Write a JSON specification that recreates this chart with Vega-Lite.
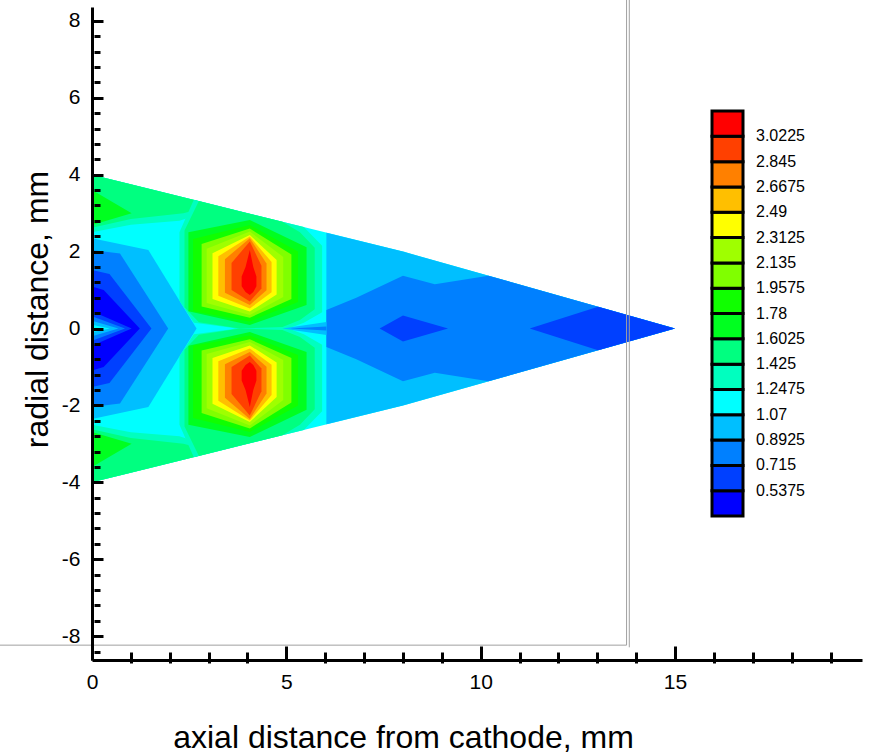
{
  "$schema": "https://vega.github.io/schema/vega-lite/v6.json",
  "width": 770,
  "height": 653,
  "autosize": {"type": "none"},
  "padding": {"left": 92, "top": 7, "right": 9, "bottom": 94},
  "background": "white",
  "config": {"view": {"stroke": null}, "font": "Liberation Sans"},
  "resolve": {"axis": {"x": "independent", "y": "independent"}},
  "datasets": {
    "contours": [
      {"g":"base","x":0,"lo":-4,"hi":4,"v":1.15},
      {"g":"base","x":8,"lo":-2,"hi":2,"v":1.15},
      {"g":"base","x":15,"lo":0,"hi":0,"v":1.15},
      {"g":"lb","x":6.03,"lo":-2.4925,"hi":2.4925,"v":0.98},
      {"g":"lb","x":8,"lo":-2,"hi":2,"v":0.98},
      {"g":"lb","x":15,"lo":0,"hi":0,"v":0.98},
      {"g":"b13","x":6.03,"lo":-0.48,"hi":0.48,"v":0.8},
      {"g":"b13","x":6.8,"lo":-0.8,"hi":0.8,"v":0.8},
      {"g":"b13","x":8,"lo":-1.37,"hi":1.37,"v":0.8},
      {"g":"b13","x":8.82,"lo":-1.15,"hi":1.15,"v":0.8},
      {"g":"b13","x":10.2,"lo":-1.371,"hi":1.371,"v":0.8},
      {"g":"b13","x":15,"lo":0,"hi":0,"v":0.8},
      {"g":"b14a","x":7.4,"lo":0,"hi":0,"v":0.62},
      {"g":"b14a","x":8,"lo":-0.34,"hi":0.34,"v":0.62},
      {"g":"b14a","x":9.16,"lo":0,"hi":0,"v":0.62},
      {"g":"b14b","x":11.26,"lo":0,"hi":0,"v":0.62},
      {"g":"b14b","x":13.02,"lo":-0.566,"hi":0.566,"v":0.62},
      {"g":"b14b","x":15,"lo":0,"hi":0,"v":0.62},
      {"g":"c12","x":0,"lo":-2.35,"hi":2.35,"v":0.98},
      {"g":"c12","x":1.45,"lo":-2.04,"hi":2.04,"v":0.98},
      {"g":"c12","x":2.69,"lo":0,"hi":0,"v":0.98},
      {"g":"c13","x":0,"lo":-2.04,"hi":2.04,"v":0.8},
      {"g":"c13","x":0.72,"lo":-1.95,"hi":1.95,"v":0.8},
      {"g":"c13","x":1.96,"lo":0,"hi":0,"v":0.8},
      {"g":"c14","x":0,"lo":-1.52,"hi":1.52,"v":0.62},
      {"g":"c14","x":0.45,"lo":-1.42,"hi":1.42,"v":0.62},
      {"g":"c14","x":1.53,"lo":0,"hi":0,"v":0.62},
      {"g":"c15","x":0,"lo":-1.09,"hi":1.09,"v":0.45},
      {"g":"c15","x":0.3,"lo":-1.0,"hi":1.0,"v":0.45},
      {"g":"c15","x":1.23,"lo":0,"hi":0,"v":0.45},
      {"g":"n14","x":0,"lo":-0.45,"hi":0.45,"v":0.62},
      {"g":"n14","x":1.02,"lo":0,"hi":0,"v":0.62},
      {"g":"n13","x":0,"lo":-0.32,"hi":0.32,"v":0.8},
      {"g":"n13","x":0.85,"lo":0,"hi":0,"v":0.8},
      {"g":"n12","x":0,"lo":-0.2,"hi":0.2,"v":0.98},
      {"g":"n12","x":0.68,"lo":0,"hi":0,"v":0.98},
      {"g":"n11","x":0,"lo":-0.1,"hi":0.1,"v":1.15},
      {"g":"n11","x":0.46,"lo":0,"hi":0,"v":1.15},
      {"g":"t10u","x":0,"lo":2.5,"hi":4,"v":1.33},
      {"g":"t10u","x":1,"lo":2.7,"hi":3.75,"v":1.33},
      {"g":"t10u","x":2.25,"lo":2.8,"hi":3.4375,"v":1.33},
      {"g":"t10u","x":2.7,"lo":2.95,"hi":3.325,"v":1.33},
      {"g":"t10l","x":0,"lo":-4,"hi":-2.5,"v":1.33},
      {"g":"t10l","x":1,"lo":-3.75,"hi":-2.7,"v":1.33},
      {"g":"t10l","x":2.25,"lo":-3.4375,"hi":-2.8,"v":1.33},
      {"g":"t10l","x":2.7,"lo":-3.325,"hi":-2.95,"v":1.33},
      {"g":"t9u","x":0,"lo":2.62,"hi":4,"v":1.5},
      {"g":"t9u","x":1,"lo":2.85,"hi":3.75,"v":1.5},
      {"g":"t9u","x":2.35,"lo":3.0,"hi":3.4125,"v":1.5},
      {"g":"t9u","x":2.75,"lo":3.1,"hi":3.3125,"v":1.5},
      {"g":"t9l","x":0,"lo":-4,"hi":-2.62,"v":1.5},
      {"g":"t9l","x":1,"lo":-3.75,"hi":-2.85,"v":1.5},
      {"g":"t9l","x":2.35,"lo":-3.4125,"hi":-3.0,"v":1.5},
      {"g":"t9l","x":2.75,"lo":-3.3125,"hi":-3.1,"v":1.5},
      {"g":"gwu","x":0,"lo":2.69,"hi":3.6,"v":1.7},
      {"g":"gwu","x":1.02,"lo":3.0,"hi":3.0,"v":1.7},
      {"g":"gwl","x":0,"lo":-3.6,"hi":-2.69,"v":1.7},
      {"g":"gwl","x":1.02,"lo":-3.0,"hi":-3.0,"v":1.7},
      {"g":"k10u","x":2.25,"lo":0.72,"hi":2.5,"v":1.33},
      {"g":"k10u","x":2.62,"lo":0.15,"hi":3.345,"v":1.33},
      {"g":"k10u","x":3.6,"lo":0.02,"hi":3.1,"v":1.33},
      {"g":"k10u","x":3.75,"lo":-0.02,"hi":3.0625,"v":1.33},
      {"g":"k10u","x":5.0,"lo":-0.02,"hi":2.75,"v":1.33},
      {"g":"k10u","x":5.45,"lo":0.15,"hi":2.6375,"v":1.33},
      {"g":"k10u","x":5.92,"lo":0.42,"hi":2.15,"v":1.33},
      {"g":"k10l","x":2.25,"lo":-2.5,"hi":-0.72,"v":1.33},
      {"g":"k10l","x":2.62,"lo":-3.345,"hi":-0.15,"v":1.33},
      {"g":"k10l","x":3.6,"lo":-3.1,"hi":-0.02,"v":1.33},
      {"g":"k10l","x":3.75,"lo":-3.0625,"hi":0.02,"v":1.33},
      {"g":"k10l","x":5.0,"lo":-2.75,"hi":0.02,"v":1.33},
      {"g":"k10l","x":5.45,"lo":-2.6375,"hi":-0.15,"v":1.33},
      {"g":"k10l","x":5.92,"lo":-2.15,"hi":-0.42,"v":1.33},
      {"g":"k9u","x":2.38,"lo":0.55,"hi":2.55,"v":1.5},
      {"g":"k9u","x":2.75,"lo":0.16,"hi":3.3125,"v":1.5},
      {"g":"k9u","x":3.8,"lo":0.0,"hi":3.05,"v":1.5},
      {"g":"k9u","x":4.9,"lo":0.04,"hi":2.775,"v":1.5},
      {"g":"k9u","x":5.35,"lo":0.22,"hi":2.5,"v":1.5},
      {"g":"k9u","x":5.73,"lo":0.5,"hi":2.1,"v":1.5},
      {"g":"k9l","x":2.38,"lo":-2.55,"hi":-0.55,"v":1.5},
      {"g":"k9l","x":2.75,"lo":-3.3125,"hi":-0.16,"v":1.5},
      {"g":"k9l","x":3.8,"lo":-3.05,"hi":0.0,"v":1.5},
      {"g":"k9l","x":4.9,"lo":-2.775,"hi":-0.04,"v":1.5},
      {"g":"k9l","x":5.35,"lo":-2.5,"hi":-0.22,"v":1.5},
      {"g":"k9l","x":5.73,"lo":-2.1,"hi":-0.5,"v":1.5},
      {"g":"k8u","x":2.48,"lo":0.45,"hi":2.5,"v":1.69},
      {"g":"k8u","x":4.06,"lo":0.09,"hi":2.82,"v":1.69},
      {"g":"k8u","x":5.52,"lo":0.612,"hi":2.11,"v":1.69},
      {"g":"k8l","x":2.48,"lo":-2.5,"hi":-0.45,"v":1.69},
      {"g":"k8l","x":4.06,"lo":-2.82,"hi":-0.09,"v":1.69},
      {"g":"k8l","x":5.52,"lo":-2.11,"hi":-0.612,"v":1.69},
      {"g":"k7u","x":2.6,"lo":0.45,"hi":2.33,"v":1.87},
      {"g":"k7u","x":4.06,"lo":0.18,"hi":2.69,"v":1.87},
      {"g":"k7u","x":5.3,"lo":0.69,"hi":2.0,"v":1.87},
      {"g":"k7l","x":2.6,"lo":-2.33,"hi":-0.45,"v":1.87},
      {"g":"k7l","x":4.06,"lo":-2.69,"hi":-0.18,"v":1.87},
      {"g":"k7l","x":5.3,"lo":-2.0,"hi":-0.69,"v":1.87},
      {"g":"k6u","x":2.82,"lo":0.57,"hi":2.2,"v":2.05},
      {"g":"k6u","x":4.06,"lo":0.28,"hi":2.6,"v":2.05},
      {"g":"k6u","x":5.13,"lo":0.765,"hi":1.925,"v":2.05},
      {"g":"k6l","x":2.82,"lo":-2.2,"hi":-0.57,"v":2.05},
      {"g":"k6l","x":4.06,"lo":-2.6,"hi":-0.28,"v":2.05},
      {"g":"k6l","x":5.13,"lo":-1.925,"hi":-0.765,"v":2.05},
      {"g":"k5u","x":2.95,"lo":0.665,"hi":2.075,"v":2.22},
      {"g":"k5u","x":4.06,"lo":0.35,"hi":2.52,"v":2.22},
      {"g":"k5u","x":4.92,"lo":0.818,"hi":1.86,"v":2.22},
      {"g":"k5l","x":2.95,"lo":-2.075,"hi":-0.665,"v":2.22},
      {"g":"k5l","x":4.06,"lo":-2.52,"hi":-0.35,"v":2.22},
      {"g":"k5l","x":4.92,"lo":-1.86,"hi":-0.818,"v":2.22},
      {"g":"k4u","x":3.1,"lo":0.764,"hi":1.958,"v":2.4},
      {"g":"k4u","x":4.06,"lo":0.44,"hi":2.43,"v":2.4},
      {"g":"k4u","x":4.75,"lo":0.886,"hi":1.781,"v":2.4},
      {"g":"k4l","x":3.1,"lo":-1.958,"hi":-0.764,"v":2.4},
      {"g":"k4l","x":4.06,"lo":-2.43,"hi":-0.44,"v":2.4},
      {"g":"k4l","x":4.75,"lo":-1.781,"hi":-0.886,"v":2.4},
      {"g":"k3u","x":3.25,"lo":0.85,"hi":1.877,"v":2.58},
      {"g":"k3u","x":4.06,"lo":0.52,"hi":2.39,"v":2.58},
      {"g":"k3u","x":4.62,"lo":0.943,"hi":1.729,"v":2.58},
      {"g":"k3l","x":3.25,"lo":-1.877,"hi":-0.85,"v":2.58},
      {"g":"k3l","x":4.06,"lo":-2.39,"hi":-0.52,"v":2.58},
      {"g":"k3l","x":4.62,"lo":-1.729,"hi":-0.943,"v":2.58},
      {"g":"k2u","x":3.42,"lo":0.93,"hi":1.8,"v":2.76},
      {"g":"k2u","x":4.06,"lo":0.61,"hi":2.35,"v":2.76},
      {"g":"k2u","x":4.49,"lo":0.994,"hi":1.69,"v":2.76},
      {"g":"k2l","x":3.42,"lo":-1.8,"hi":-0.93,"v":2.76},
      {"g":"k2l","x":4.06,"lo":-2.35,"hi":-0.61,"v":2.76},
      {"g":"k2l","x":4.49,"lo":-1.69,"hi":-0.994,"v":2.76},
      {"g":"k1u","x":3.59,"lo":1.0,"hi":1.705,"v":2.93},
      {"g":"k1u","x":4.06,"lo":0.7,"hi":2.26,"v":2.93},
      {"g":"k1u","x":4.36,"lo":1.041,"hi":1.634,"v":2.93},
      {"g":"k1l","x":3.59,"lo":-1.705,"hi":-1.0,"v":2.93},
      {"g":"k1l","x":4.06,"lo":-2.26,"hi":-0.7,"v":2.93},
      {"g":"k1l","x":4.36,"lo":-1.634,"hi":-1.041,"v":2.93},
      {"g":"k0u","x":3.85,"lo":1.1,"hi":1.35,"v":3.1},
      {"g":"k0u","x":3.95,"lo":0.95,"hi":1.6,"v":3.1},
      {"g":"k0u","x":4.06,"lo":0.87,"hi":2.04,"v":3.1},
      {"g":"k0u","x":4.15,"lo":0.95,"hi":1.6,"v":3.1},
      {"g":"k0u","x":4.23,"lo":1.1,"hi":1.35,"v":3.1},
      {"g":"k0l","x":3.85,"lo":-1.35,"hi":-1.1,"v":3.1},
      {"g":"k0l","x":3.95,"lo":-1.6,"hi":-0.95,"v":3.1},
      {"g":"k0l","x":4.06,"lo":-2.04,"hi":-0.87,"v":3.1},
      {"g":"k0l","x":4.15,"lo":-1.6,"hi":-0.95,"v":3.1},
      {"g":"k0l","x":4.23,"lo":-1.35,"hi":-1.1,"v":3.1},
      {"g":"sp12","x":4.9,"lo":0,"hi":0,"v":0.98},
      {"g":"sp12","x":6.03,"lo":-0.17,"hi":0.17,"v":0.98},
      {"g":"sp13","x":5.1,"lo":0,"hi":0,"v":0.8},
      {"g":"sp13","x":6.03,"lo":-0.05,"hi":0.05,"v":0.8}
    ],
    "frame": [
      {"x": 13.753, "x2": 13.753, "y": -8.234, "y2": 8.56},
      {"x": 13.823, "x2": 13.823, "y": -8.29, "y2": 8.56},
      {"x": -2.37, "x2": 13.753, "y": -8.234, "y2": -8.234}
    ]
  },
  "layer": [
    {
      "data": {"name": "contours"},
      "mark": {"type": "area", "orient": "vertical", "opacity": 1, "interpolate": "linear"},
      "encoding": {
        "x": {
          "field": "x", "type": "quantitative",
          "scale": {"domain": [0, 19.81], "nice": false, "zero": false},
          "axis": {
            "orient": "bottom", "offset": 0,
            "title": "axial distance from cathode, mm",
            "values": [0, 5, 10, 15],
            "labelExpr": "toString(datum.value)",
            "labelFont": "Liberation Sans", "labelFontSize": 21, "labelColor": "black",
            "labelPadding": 25, "labelOverlap": false, "labelFlush": false, "labelBound": false,
            "ticks": true, "tickSize": -14, "tickWidth": 3, "tickColor": "black",
            "domainColor": "black", "domainWidth": 3, "grid": false, "zindex": 2,
            "titleFont": "Liberation Sans", "titleFontSize": 32, "titleFontWeight": "normal", "titleColor": "black",
            "titleX": 311, "titleY": 87, "titleAlign": "center", "titleBaseline": "alphabetic"
          }
        },
        "y": {
          "field": "lo", "type": "quantitative", "stack": null,
          "scale": {"domain": [-8.62, 8.36], "nice": false, "zero": false},
          "axis": {
            "orient": "left", "offset": 0,
            "title": "radial distance, mm",
            "values": [-8, -6, -4, -2, 0, 2, 4, 6, 8],
            "labelExpr": "toString(datum.value)",
            "labelFont": "Liberation Sans", "labelFontSize": 21, "labelColor": "black",
            "labelPadding": 23, "labelOverlap": false, "labelFlush": false, "labelBound": false,
            "ticks": true, "tickSize": -11, "tickWidth": 3, "tickColor": "black",
            "domainColor": "black", "domainWidth": 3, "grid": false, "zindex": 2,
            "titleFont": "Liberation Sans", "titleFontSize": 32, "titleFontWeight": "normal", "titleColor": "black",
            "titleX": -45, "titleY": 302, "titleAngle": -90, "titleAlign": "center", "titleBaseline": "alphabetic"
          }
        },
        "y2": {"field": "hi"},
        "detail": {"field": "g", "type": "nominal"},
        "color": {
          "field": "v", "type": "quantitative",
          "scale": {
            "type": "threshold",
            "domain": [0.5375, 0.715, 0.8925, 1.07, 1.2475, 1.425, 1.6025, 1.78, 1.9575, 2.135, 2.3125, 2.49, 2.6675, 2.845, 3.0225],
            "range": ["#0000ff", "#0040ff", "#0080ff", "#00bfff", "#00ffff", "#00ffbf", "#00ff80", "#00ff20", "#10ff00", "#80ff00", "#9fff00", "#ffff00", "#ffbf00", "#ff8000", "#ff4000", "#ff0000"]
          },
          "legend": {
            "type": "gradient", "orient": "none", "direction": "vertical",
            "legendX": 620, "legendY": 104, "title": null, "padding": 0,
            "gradientLength": 405, "gradientThickness": 31,
            "gradientStrokeColor": "black", "gradientStrokeWidth": 3,
            "format": "~g",
            "labelFont": "Liberation Sans", "labelFontSize": 16, "labelColor": "black",
            "labelOffset": 13, "labelOverlap": false,
            "encode": {
              "gradient": {"stroke": {"value": "black"}, "strokeWidth": {"value": 3}},
              "labels": {"baseline": {"value": "alphabetic"}}
            }
          }
        }
      }
    },
    {
      "data": {"name": "frame"},
      "mark": {"type": "rule", "color": "#a0a0a0", "strokeWidth": 1},
      "encoding": {
        "x": {
          "field": "x", "type": "quantitative",
          "scale": {"domain": [0, 19.81], "nice": false, "zero": false},
          "axis": {
            "orient": "bottom", "offset": 3, "title": null,
            "values": [1,2,3,4,6,7,8,9,11,12,13,14,16,17,18,19],
            "labels": false, "domain": false, "grid": false,
            "ticks": true, "tickSize": -11, "tickWidth": 3, "tickColor": "black", "zindex": 2
          }
        },
        "x2": {"field": "x2"},
        "y": {
          "field": "y", "type": "quantitative",
          "scale": {"domain": [-8.62, 8.36], "nice": false, "zero": false},
          "axis": {
            "orient": "left", "offset": -2, "title": null,
            "values": [-8.4,-7.6,-7.2,-6.8,-6.4,-5.6,-5.2,-4.8,-4.4,-3.6,-3.2,-2.8,-2.4,-1.6,-1.2,-0.8,-0.4,0.4,0.8,1.2,1.6,2.4,2.8,3.2,3.6,4.4,4.8,5.2,5.6,6.4,6.8,7.2,7.6],
            "labels": false, "domain": false, "grid": false,
            "ticks": true, "tickSize": -6, "tickWidth": 3, "tickColor": "black", "zindex": 2
          }
        },
        "y2": {"field": "y2"}
      }
    }
  ]
}
